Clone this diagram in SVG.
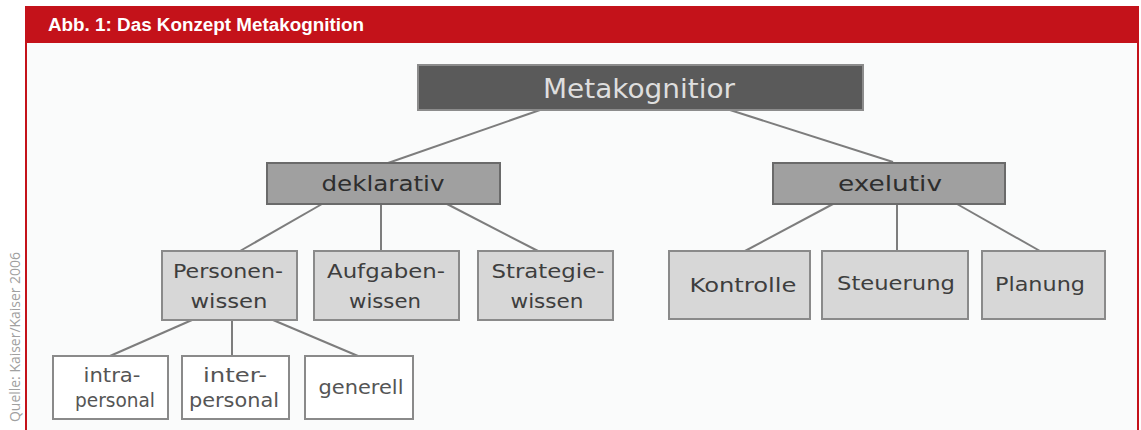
<svg xmlns="http://www.w3.org/2000/svg" width="1141" height="430" viewBox="0 0 1141 430">
<style>
.lbl{font-family:"DejaVu Sans","Liberation Sans",sans-serif;text-anchor:middle}
.top rect{fill:#5a5a5a;stroke:#8c8c8c;stroke-width:2}
.top text{fill:#dedede;font-size:27px}
.l2 rect{fill:#a0a0a0;stroke:#6a6a6a;stroke-width:2}
.l2 text{fill:#2e2e2e;font-size:22px}
.l3 rect{fill:#d7d7d7;stroke:#8a8a8a;stroke-width:2}
.l3 text{fill:#3e3e3e;font-size:20px}
.l4 rect{fill:#ffffff;stroke:#8a8a8a;stroke-width:2}
.l4 text{fill:#555555;font-size:19px}
.conn line{stroke:#7d7d7d;stroke-width:2}
</style>
<rect x="0" y="0" width="1141" height="430" fill="#ffffff"/>
<rect x="26" y="7" width="1112" height="430" fill="#fafbfb" stroke="#c4121a" stroke-width="2"/>
<rect x="25" y="7" width="1114" height="36" fill="#c4121a"/>
<text x="48" y="31" font-family="Liberation Sans, Arial, sans-serif" font-weight="bold" font-size="18" fill="#ffffff" textLength="316" lengthAdjust="spacingAndGlyphs">Abb. 1: Das Konzept Metakognition</text>
<text transform="translate(20,252) rotate(-90)" font-family="Open Sans, sans-serif" font-size="15" fill="#a0a0a0" text-anchor="end" textLength="170" lengthAdjust="spacingAndGlyphs">Quelle: Kaiser/Kaiser 2006</text>
<g class="conn">
<line x1="540" y1="110" x2="388" y2="163"/>
<line x1="730" y1="110" x2="893" y2="162"/>
<line x1="322" y1="204" x2="240" y2="251"/>
<line x1="381" y1="204" x2="381" y2="251"/>
<line x1="447" y1="204" x2="538" y2="251"/>
<line x1="833" y1="204" x2="745" y2="251"/>
<line x1="897" y1="204" x2="897" y2="251"/>
<line x1="957" y1="204" x2="1040" y2="251"/>
<line x1="192" y1="320" x2="110" y2="356"/>
<line x1="232" y1="320" x2="232" y2="356"/>
<line x1="273" y1="320" x2="358" y2="356"/>
</g>
<g id="metakognition" class="top lbl"><rect x="418" y="65" width="445" height="45"/><text x="639" y="98" textLength="192" lengthAdjust="spacingAndGlyphs">Metakognitior</text></g>
<g id="deklarativ" class="l2 lbl"><rect x="267" y="163" width="233" height="41"/><text x="383" y="191" textLength="123" lengthAdjust="spacingAndGlyphs">deklarativ</text></g>
<g id="exekutiv" class="l2 lbl"><rect x="773" y="163" width="232" height="41"/><text x="890" y="191" textLength="104" lengthAdjust="spacingAndGlyphs">exelutiv</text></g>
<g id="personenwissen" class="l3 lbl"><rect x="162" y="251" width="135" height="69"/><text x="228" y="278" textLength="110" lengthAdjust="spacingAndGlyphs">Personen-</text><text x="229" y="308" textLength="77" lengthAdjust="spacingAndGlyphs">wissen</text></g>
<g id="aufgabenwissen" class="l3 lbl"><rect x="314" y="251" width="145" height="69"/><text x="386" y="278" textLength="118" lengthAdjust="spacingAndGlyphs">Aufgaben-</text><text x="385" y="308" textLength="72" lengthAdjust="spacingAndGlyphs">wissen</text></g>
<g id="strategiewissen" class="l3 lbl"><rect x="478" y="251" width="135" height="69"/><text x="548" y="278" textLength="113" lengthAdjust="spacingAndGlyphs">Strategie-</text><text x="547" y="308" textLength="73" lengthAdjust="spacingAndGlyphs">wissen</text></g>
<g id="kontrolle" class="l3 lbl"><rect x="669" y="251" width="141" height="68"/><text x="743" y="292" textLength="107" lengthAdjust="spacingAndGlyphs">Kontrolle</text></g>
<g id="steuerung" class="l3 lbl"><rect x="822" y="251" width="146" height="68"/><text x="896" y="290" textLength="118" lengthAdjust="spacingAndGlyphs">Steuerung</text></g>
<g id="planung" class="l3 lbl"><rect x="982" y="251" width="123" height="68"/><text x="1040" y="291" textLength="90" lengthAdjust="spacingAndGlyphs">Planung</text></g>
<g id="intrapersonal" class="l4 lbl"><rect x="53" y="356" width="115" height="63"/><text x="112" y="382" textLength="57" lengthAdjust="spacingAndGlyphs">intra-</text><text x="115" y="407" textLength="80" lengthAdjust="spacingAndGlyphs">personal</text></g>
<g id="interpersonal" class="l4 lbl"><rect x="182" y="356" width="107" height="63"/><text x="235" y="382" textLength="64" lengthAdjust="spacingAndGlyphs">inter-</text><text x="234" y="407" textLength="90" lengthAdjust="spacingAndGlyphs">personal</text></g>
<g id="generell" class="l4 lbl"><rect x="305" y="356" width="108" height="63"/><text x="361" y="394" textLength="85" lengthAdjust="spacingAndGlyphs">generell</text></g>
</svg>
